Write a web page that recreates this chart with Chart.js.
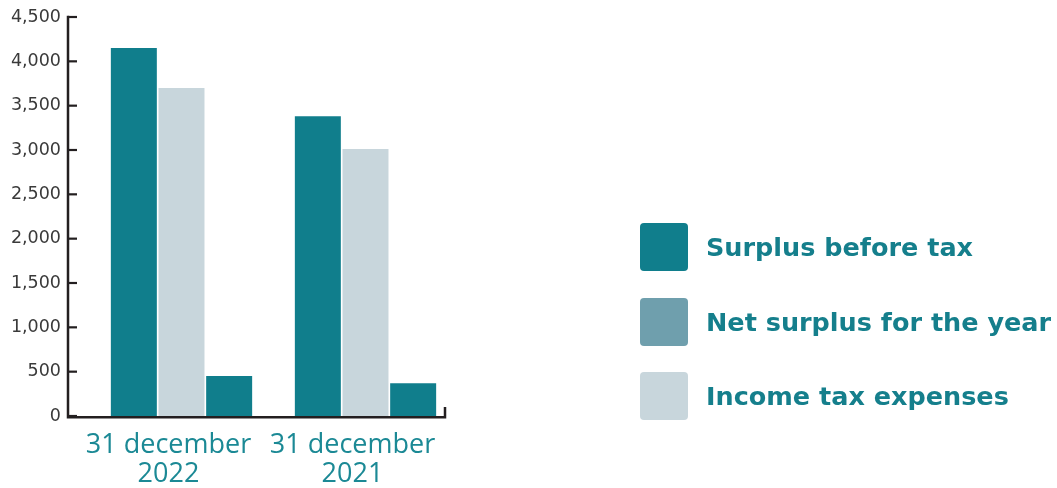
<!DOCTYPE html>
<html>
<head>
<meta charset="utf-8">
<script src="https://cdn.jsdelivr.net/npm/chart.js@4.4.1/dist/chart.umd.min.js"></script>
<style>
  html, body { margin: 0; padding: 0; background: #ffffff; }
  #wrap { position: relative; width: 1057px; height: 488px; }
  #chart { position: absolute; left: 0; top: 0; }
  #legend { position: absolute; left: 640px; top: 223px; }
  .item { position: absolute; left: 0; height: 48px; white-space: nowrap; }
  .swatch { position: absolute; left: 0; top: 0; width: 48px; height: 48px; border-radius: 4px; }
  .label { position: absolute; left: 66px; top: 0; line-height: 48px;
           font-family: "DejaVu Sans", sans-serif; font-weight: bold; font-size: 25.5px; color: #157f8c; }
</style>
</head>
<body>
<div id="wrap">
  <canvas id="chart" width="1057" height="488"></canvas>
  <div id="legend"></div>
</div>
<script>
// Reporting dates (x-axis categories)
const categories = [["31 december", "2022"], ["31 december", "2021"]];

// Series values
const surplusBeforeTax = [4150, 3380];
const netSurplus = [3700, 3010];
const incomeTaxExpenses = [450, 370];

// Series names
const seriesNames = ["Surplus before tax", "Net surplus for the year", "Income tax expenses"];

// Y-axis tick values
const yTicks = [0, 500, 1000, 1500, 2000, 2500, 3000, 3500, 4000, 4500];

const DARK = "#107e8c";
const MID = "#6f9fad";
const LIGHT = "#c8d6dc";
const AXIS = "#231f20";

// Bar fills and the swatches shown in the key
const barColors = [DARK, LIGHT, DARK];
const keyColors = [DARK, MID, LIGHT];

// Key to the right of the plot
const legendEl = document.getElementById("legend");
seriesNames.forEach((name, i) => {
  const item = document.createElement("div");
  item.className = "item";
  item.style.top = (i * 74.5) + "px";
  const sw = document.createElement("div");
  sw.className = "swatch";
  sw.style.background = keyColors[i];
  const lb = document.createElement("div");
  lb.className = "label";
  lb.textContent = name;
  item.appendChild(sw);
  item.appendChild(lb);
  legendEl.appendChild(item);
});

// Axis lines with inward ticks, drawn from the scales
const axisPlugin = {
  id: "axisLines",
  afterDraw(chart) {
    const { ctx, chartArea, scales } = chart;
    const y = scales.y;
    const axisX = chartArea.left - 21.5;
    const endX = chartArea.right - 12.5;
    const baseY = y.getPixelForValue(0);
    const topY = y.getPixelForValue(yTicks[yTicks.length - 1]);
    ctx.save();
    ctx.strokeStyle = AXIS;
    ctx.lineWidth = 2.5;
    ctx.lineCap = "butt";
    ctx.beginPath();
    ctx.moveTo(axisX, topY - 1.2);
    ctx.lineTo(axisX, baseY + 1.2);
    ctx.lineTo(endX, baseY + 1.2);
    ctx.lineTo(endX, baseY - 9);
    ctx.stroke();
    ctx.lineWidth = 2.2;
    yTicks.forEach(v => {
      const py = y.getPixelForValue(v);
      ctx.beginPath();
      ctx.moveTo(axisX, py);
      ctx.lineTo(axisX + 9, py);
      ctx.stroke();
    });
    ctx.restore();
  }
};

new Chart(document.getElementById("chart"), {
  type: "bar",
  data: {
    labels: categories,
    datasets: [
      { label: seriesNames[0], data: surplusBeforeTax, backgroundColor: barColors[0] },
      { label: seriesNames[1], data: netSurplus, backgroundColor: barColors[1] },
      { label: seriesNames[2], data: incomeTaxExpenses, backgroundColor: barColors[2] }
    ]
  },
  options: {
    responsive: false,
    animation: false,
    layout: { padding: { left: 0, right: 599.5, top: 17, bottom: 0 } },
    datasets: { bar: { categoryPercentage: 0.777, barPercentage: 0.965 } },
    plugins: { legend: { display: false }, tooltip: { enabled: false } },
    scales: {
      x: {
        grid: { display: false, drawTicks: false },
        border: { display: false },
        afterFit(scale) { scale.height = 72; },
        ticks: {
          color: "#1b8995",
          padding: 14,
          labelOffset: -13,
          maxRotation: 0,
          autoSkip: false,
          font: { family: "'Open Sans', sans-serif", size: 27, weight: 400, lineHeight: 1.1 }
        }
      },
      y: {
        min: 0,
        max: 4500,
        afterFit(scale) {
          scale.width = 89.5;
          scale.paddingTop = 0;
          scale.paddingBottom = 0;
        },
        afterBuildTicks(scale) { scale.ticks = yTicks.map(v => ({ value: v })); },
        grid: { display: false, drawTicks: false },
        border: { display: false },
        ticks: {
          color: "#3a3a3a",
          padding: 28.5,
          font: { family: "'DejaVu Sans', sans-serif", size: 17.5 },
          callback: v => v.toLocaleString("en-US")
        }
      }
    }
  },
  plugins: [axisPlugin]
});
</script>
</body>
</html>
